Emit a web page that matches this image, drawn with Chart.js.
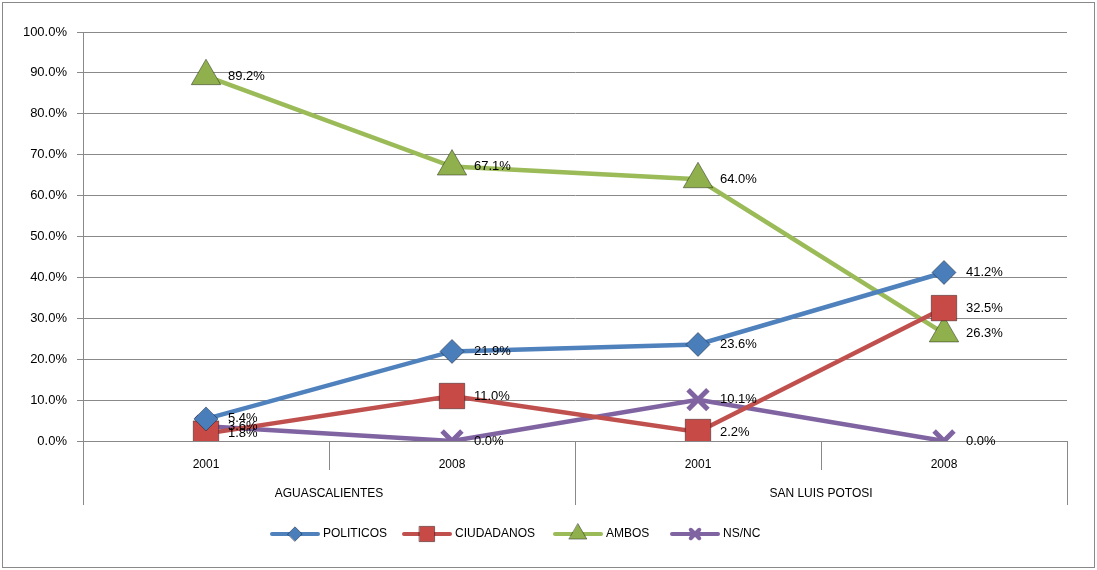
<!DOCTYPE html>
<html>
<head>
<meta charset="utf-8">
<script src="https://cdn.jsdelivr.net/npm/chart.js@4"></script>
<style>
  html, body { margin: 0; padding: 0; background: #fff; }
  #wrap { width: 1097px; height: 570px; }
</style>
</head>
<body>
<div id="wrap"><canvas id="chart"></canvas></div>
<script>
// categorías (año) y grupos (estado)
const years = ["2001", "2008", "2001", "2008"];
const groups = ["AGUASCALIENTES", "SAN LUIS POTOSI"];

// series en %
const politicos = [5.4, 21.9, 23.6, 41.2];
const ciudadanos = [1.8, 11.0, 2.2, 32.5];
const ambos = [89.2, 67.1, 64.0, 26.3];
const nsnc = [3.6, 0.0, 10.1, 0.0];

const yTicks = [0, 10, 20, 30, 40, 50, 60, 70, 80, 90, 100];

const FONT = "'Liberation Sans', Arial, sans-serif";
const FS = 13;
const GRID = "#898989";

const series = [
  { label: "POLITICOS", data: politicos, color: "#4F81BD", marker: "#4A7EBB", style: "rectRot", r: 12, bw: 1 },
  { label: "CIUDADANOS", data: ciudadanos, color: "#C0504D", marker: "#C84A47", style: "rect", r: 18, bw: 1 },
  { label: "AMBOS", data: ambos, color: "#9BBB59", marker: "#8FB04C", style: "triangle", r: 17, bw: 1 },
  { label: "NS/NC", data: nsnc, color: "#8064A2", marker: "#8064A2", style: "crossRot", r: 14, bw: 5 }
];

// etiquetas de datos a la derecha de cada punto
const dataLabels = {
  id: "dataLabels",
  afterDatasetsDraw(chart) {
    const ctx = chart.ctx;
    ctx.save();
    ctx.font = FS + "px " + FONT;
    ctx.fillStyle = "#000";
    ctx.textBaseline = "middle";
    ctx.textAlign = "left";
    chart.data.datasets.forEach((ds, i) => {
      chart.getDatasetMeta(i).data.forEach((pt, j) => {
        ctx.fillText(ds.data[j].toFixed(1) + "%", pt.x + 22, pt.y);
      });
    });
    ctx.restore();
  }
};

// eje de categorías de dos niveles + leyenda + borde
const decor = {
  id: "decor",
  afterDraw(chart) {
    const ctx = chart.ctx;
    const a = chart.chartArea;
    const n = years.length;
    const w = (a.right - a.left) / n;
    ctx.save();
    ctx.strokeStyle = GRID;
    ctx.lineWidth = 1;
    for (let i = 0; i <= n; i++) {
      const x = Math.round(a.left + i * w) + 0.5;
      const end = (i % 2 === 0) ? a.bottom + 64 : a.bottom + 29;
      ctx.beginPath();
      ctx.moveTo(x, a.bottom);
      ctx.lineTo(x, end);
      ctx.stroke();
    }
    ctx.font = (FS - 1) + "px " + FONT;
    ctx.fillStyle = "#000";
    ctx.textAlign = "center";
    ctx.textBaseline = "middle";
    groups.forEach((g, i) => {
      ctx.fillText(g, a.left + (i * 2 + 1) * w, a.bottom + 53);
    });

    // leyenda
    const pos = [272, 404, 555, 672];
    const ly = 534;
    series.forEach((s, i) => {
      const x0 = pos[i];
      ctx.strokeStyle = s.color;
      ctx.lineWidth = 4;
      ctx.lineCap = "round";
      ctx.beginPath();
      ctx.moveTo(x0, ly);
      ctx.lineTo(x0 + 46, ly);
      ctx.stroke();
      const cross = s.style === "crossRot";
      ctx.fillStyle = s.marker;
      ctx.strokeStyle = cross ? s.marker : "rgba(0,0,0,0.4)";
      ctx.lineWidth = cross ? 4 : 1;
      Chart.helpers.drawPoint(ctx, {
        pointStyle: s.style,
        radius: cross ? 6 : s.r * 0.6,
        borderWidth: ctx.lineWidth,
        rotation: 0
      }, x0 + 23, ly);
      ctx.fillStyle = "#000";
      ctx.textAlign = "left";
      ctx.fillText(s.label, x0 + 51, ly);
    });

    ctx.strokeStyle = GRID;
    ctx.lineWidth = 1;
    ctx.strokeRect(2.5, 2.5, chart.width - 5, chart.height - 5);
    ctx.restore();
  }
};

new Chart(document.getElementById("chart"), {
  type: "line",
  data: {
    labels: years,
    datasets: series.map(s => ({
      label: s.label,
      data: s.data,
      borderColor: s.color,
      backgroundColor: s.marker,
      borderWidth: 4.5,
      pointStyle: s.style,
      pointRadius: s.r,
      pointHoverRadius: s.r,
      pointBackgroundColor: s.marker,
      pointBorderColor: s.style === "crossRot" ? s.marker : "rgba(0,0,0,0.4)",
      pointBorderWidth: s.bw,
      tension: 0
    }))
  },
  options: {
    responsive: true,
    maintainAspectRatio: false,
    animation: false,
    layout: { padding: { left: 0, right: 30, top: 32, bottom: 0 } },
    plugins: {
      legend: { display: false },
      tooltip: { enabled: false }
    },
    scales: {
      x: {
        offset: true,
        grid: { display: false },
        border: { display: true, color: GRID },
        ticks: { font: { size: FS - 1, family: FONT }, color: "#000", padding: 8, maxRotation: 0 },
        afterFit: s => { s.height = 129; }
      },
      y: {
        min: 0,
        max: 100,
        afterBuildTicks: s => { s.ticks = yTicks.map(v => ({ value: v })); },
        grid: { color: GRID, lineWidth: 1, tickLength: 6 },
        border: { display: true, color: GRID },
        ticks: {
          font: { size: FS, family: FONT },
          color: "#000",
          padding: 10,
          callback: v => v.toFixed(1) + "%"
        },
        afterFit: s => { s.width = 83; }
      }
    }
  },
  plugins: [dataLabels, decor]
});
</script>
</body>
</html>
